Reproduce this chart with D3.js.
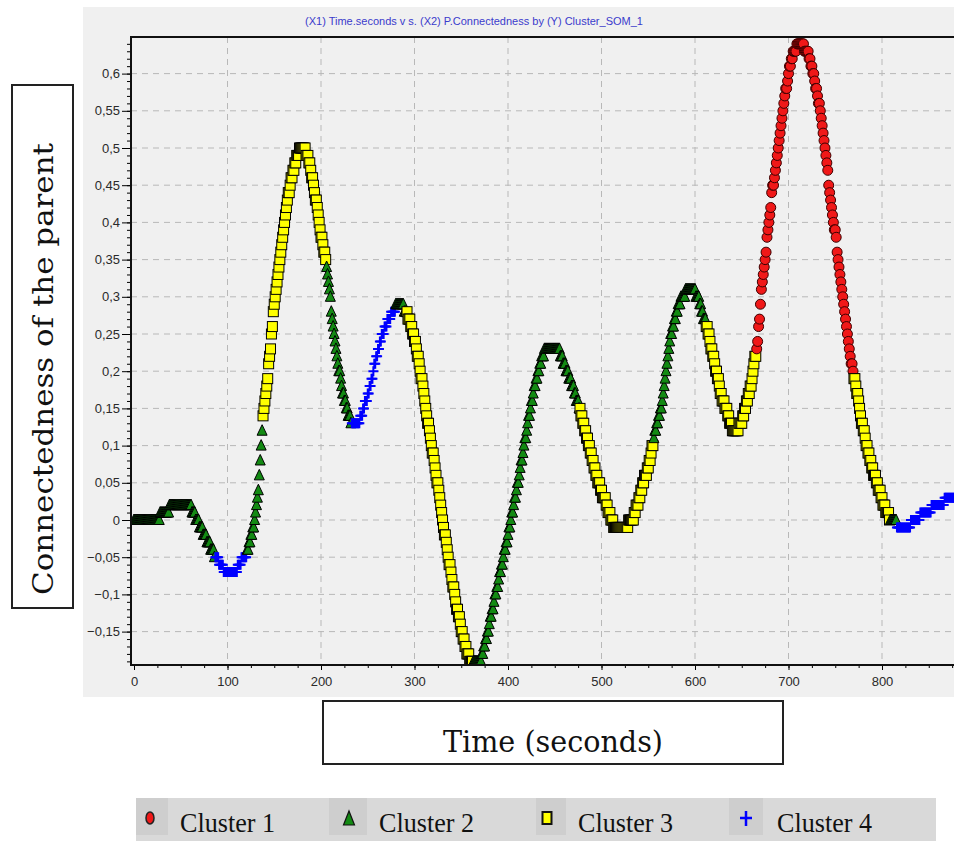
<!DOCTYPE html>
<meta charset="utf-8">
<script src="https://d3js.org/d3.v7.min.js"></script>
<style>
  body { margin: 0; background: #fff; }
  .tick text { font-family: "Liberation Sans", Arial, sans-serif; font-size: 13px; fill: #2a2a2a; }
</style>
<svg id="chart" width="954" height="841"></svg>
<script>

// Connectedness of the parent, in hundredths, one sample per second from t = 0
var connectedness = [
  0,0,0,0,0,0,0,0,0,0,0,0,0,0,0,0,0,0,0,0,
  0,0,0,0,0,0,0,0,1,1,1,1,1,1,1,1,1,1,2,2,
  2,2,2,2,2,2,2,2,2,2,2,2,2,2,2,2,2,2,2,2,
  2,2,1,1,1,1,0,0,0,0,-1,-1,-1,-1,-2,-2,-2,-2,-3,-3,
  -3,-3,-4,-4,-4,-4,-5,-5,-5,-5,-5,-6,-6,-6,-6,-6,-7,-7,-7,-7,
  -7,-7,-7,-7,-7,-7,-7,-7,-7,-7,-7,-6,-6,-6,-6,-5,-5,-5,-5,-5,
  -5,-4,-4,-3,-3,-2,-2,-1,-1,0,1,2,3,4,6,8,10,12,14,15,
  16,17,18,19,21,22,23,25,26,28,29,30,31,32,33,34,35,36,37,38,
  39,40,41,42,43,44,44,45,46,46,47,47,48,48,49,49,49,50,50,50,
  50,50,50,50,49,49,49,48,48,47,46,46,45,44,43,43,42,41,40,39,
  38,38,37,36,36,35,34,33,32,31,30,28,27,26,25,24,23,22,21,20,
  20,19,18,17,17,16,16,15,15,14,14,14,13,13,13,13,13,13,13,13,
  13,13,14,14,14,15,15,16,16,16,17,17,18,18,19,19,20,21,21,22,
  22,23,23,24,24,25,25,25,26,26,26,27,27,27,27,28,28,28,28,28,
  29,29,29,29,29,29,29,29,29,28,28,28,28,27,27,27,26,26,25,25,
  24,24,23,22,22,21,20,19,19,18,17,16,15,14,13,13,12,11,10,9,
  9,8,7,6,5,5,4,3,2,1,0,-1,-2,-2,-3,-4,-5,-6,-6,-7,
  -8,-9,-9,-10,-11,-12,-12,-13,-13,-14,-15,-15,-16,-16,-17,-17,-18,-18,-18,-19,
  -19,-19,-19,-19,-19,-19,-19,-19,-19,-19,-19,-19,-18,-18,-17,-17,-16,-16,-15,-15,
  -14,-13,-13,-12,-12,-11,-10,-10,-9,-9,-8,-7,-7,-6,-6,-5,-4,-4,-3,-3,
  -2,-1,-1,0,1,1,2,3,3,4,5,5,6,7,8,8,9,10,11,11,
  12,13,14,14,15,16,16,17,18,18,19,19,20,20,21,21,22,22,22,23,
  23,23,23,23,23,23,23,23,23,23,23,23,23,23,23,23,22,22,22,21,
  21,21,20,20,20,19,19,19,18,18,18,17,17,16,16,16,15,15,14,14,
  13,13,12,12,11,11,10,10,9,9,8,8,7,7,6,6,5,5,5,4,
  4,3,3,3,3,2,2,1,1,1,0,0,0,-1,-1,-1,-1,-1,-1,-1,
  -1,-1,-1,-1,-1,-1,-1,-1,-1,0,0,0,0,0,0,1,1,2,2,2,
  3,3,4,4,5,5,6,6,6,7,7,8,8,9,10,10,11,12,12,13,
  13,14,14,15,15,16,17,18,19,20,21,22,23,24,25,25,26,26,27,27,
  28,28,29,29,29,30,30,30,30,30,31,31,31,31,31,31,31,31,31,31,
  31,30,30,30,30,29,29,28,28,27,27,27,26,26,25,25,24,23,23,22,
  22,21,20,20,19,19,18,17,17,16,16,16,15,15,15,14,14,13,13,13,
  12,12,12,12,12,12,12,13,13,13,13,14,14,15,15,16,16,17,17,18,
  18,19,20,21,22,22,23,24,26,27,29,31,32,33,34,35,36,38,39,40,
  41,42,44,45,45,46,47,48,49,50,51,52,53,54,55,56,57,58,58,59,
  60,61,61,62,62,63,63,63,63,64,64,64,64,64,64,64,64,63,63,63,
  63,63,62,62,61,61,60,60,59,58,58,57,56,56,55,54,53,52,51,50,
  49,48,47,45,44,43,42,41,40,39,39,38,36,35,34,33,32,31,30,29,
  28,27,26,25,24,23,22,21,21,20,19,19,18,17,17,16,15,14,13,13,
  12,12,11,10,10,9,9,8,8,7,7,6,6,6,5,5,4,4,4,3,
  3,2,2,2,1,1,1,1,0,0,0,0,0,0,0,0,-1,-1,-1,-1,
  -1,-1,-1,-1,-1,-1,-1,-1,-1,-1,-1,0,0,0,0,0,0,0,0,0,
  0,1,1,1,1,1,1,1,1,1,1,1,1,2,2,2,2,2,2,2,
  2,2,2,2,2,2,2,3,3,3,3,3,3,3,3,3,3,3,3,3,
  3
];
var sampleStep = 1; // seconds between samples

// [first second, last second, cluster]
var clusterRuns = [
  [0, 86, 2], [87, 120, 4], [121, 137, 2], [138, 205, 3],
  [206, 232, 2], [233, 279, 4], [280, 291, 2], [292, 362, 3],
  [363, 476, 2], [477, 555, 3], [556, 611, 2], [612, 665, 3],
  [666, 769, 1], [770, 808, 3], [809, 815, 2], [816, 880, 4]
];

var clusterNames = ["Cluster 1", "Cluster 2", "Cluster 3", "Cluster 4"];
var xTicks = [0, 100, 200, 300, 400, 500, 600, 700, 800];
var yTicks = [-0.15, -0.1, -0.05, 0, 0.05, 0.1, 0.15, 0.2, 0.25, 0.3, 0.35, 0.4, 0.45, 0.5, 0.55, 0.6];
var titleText = "(X1) Time.seconds v s. (X2) P.Connectedness by (Y) Cluster_SOM_1";

var svg = d3.select("#chart");

var plotLeft = 131, plotTop = 37, plotBottom = 665, plotRight = 954;

var x = d3.scaleLinear().domain([0, 800]).range([134, 882]);
var y = d3.scaleLinear().domain([0, 0.6]).range([520, 73.6]);

// panel background
svg.append("rect")
  .attr("x", 83).attr("y", 7)
  .attr("width", 954 - 83).attr("height", 697 - 7)
  .attr("fill", "#f0f0f0");

// title
svg.append("text")
  .attr("x", 474).attr("y", 25)
  .attr("text-anchor", "middle")
  .style("font-family", "'Liberation Sans', Arial, sans-serif")
  .style("font-size", "11px")
  .attr("fill", "#3b3bcc")
  .text(titleText);

// grid
var grid = svg.append("g")
  .attr("stroke", "#b8b8b8")
  .attr("stroke-dasharray", "6 5");
grid.selectAll("line.h")
  .data(yTicks)
  .enter().append("line")
    .attr("x1", plotLeft).attr("x2", plotRight)
    .attr("y1", function(d) { return y(d); })
    .attr("y2", function(d) { return y(d); });
grid.selectAll("line.v")
  .data(xTicks.slice(1))
  .enter().append("line")
    .attr("y1", plotTop).attr("y2", plotBottom)
    .attr("x1", function(d) { return x(d); })
    .attr("x2", function(d) { return x(d); });

// minor ticks
var yMinor = d3.range(-19, 65).map(function(k) { return k / 100; });
svg.append("g")
  .attr("transform", "translate(" + plotLeft + ",0)")
  .call(d3.axisLeft(y).tickValues(yMinor).tickSize(4).tickFormat(""))
  .call(function(g) { g.select(".domain").remove(); });

var xMinor = d3.range(0, 900, 25);
svg.append("g")
  .attr("transform", "translate(0," + plotBottom + ")")
  .call(d3.axisBottom(x).tickValues(xMinor).tickSize(3).tickFormat(""))
  .call(function(g) { g.select(".domain").remove(); });

// major axes
svg.append("g")
  .attr("transform", "translate(" + plotLeft + ",0)")
  .call(d3.axisLeft(y).tickValues(yTicks).tickSize(9).tickPadding(2)
    .tickFormat(function(d) { return d3.format("")(+d.toFixed(2)).replace(".", ","); }))
  .call(function(g) { g.select(".domain").remove(); });

svg.append("g")
  .attr("transform", "translate(0," + plotBottom + ")")
  .call(d3.axisBottom(x).tickValues(xTicks).tickSize(5).tickPadding(7))
  .call(function(g) { g.select(".domain").remove(); });

// frame lines
svg.append("path")
  .attr("d", "M" + plotRight + "," + plotTop + "H" + plotLeft + "V" + plotBottom + "H" + plotRight)
  .attr("fill", "none")
  .attr("stroke", "#111")
  .attr("stroke-width", 2);

// markers
svg.append("clipPath").attr("id", "plotClip")
  .append("rect")
    .attr("x", plotLeft + 1).attr("y", plotTop + 1)
    .attr("width", plotRight - plotLeft).attr("height", plotBottom - plotTop - 2);

var points = connectedness.map(function(v, i) {
  var run = clusterRuns.find(function(r) { return i >= r[0] && i <= r[1]; });
  return { t: i * sampleStep, v: v / 100, cluster: run[2] };
});

function drawMarker(g, cluster) {
  if (cluster === 1) {
    g.append("circle").attr("r", 5)
      .attr("fill", "#f01818").attr("stroke", "#3a0000").attr("stroke-width", 1);
  } else if (cluster === 2) {
    g.append("path").attr("d", "M0,-6L5,4.5L-5,4.5Z")
      .attr("fill", "#138a13").attr("stroke", "#000").attr("stroke-width", 1);
  } else if (cluster === 3) {
    g.append("rect").attr("x", -5).attr("y", -5).attr("width", 10).attr("height", 10)
      .attr("fill", "#ffff00").attr("stroke", "#000").attr("stroke-width", 1);
  } else {
    g.append("path").attr("d", "M-5,0H5M0,-5V5")
      .attr("stroke", "#0000ff").attr("stroke-width", 2);
  }
}

svg.append("g")
  .attr("clip-path", "url(#plotClip)")
  .selectAll("g")
  .data(points)
  .enter().append("g")
    .attr("transform", function(d) { return "translate(" + x(d.t) + "," + y(d.v) + ")"; })
    .each(function(d) { drawMarker(d3.select(this), d.cluster); });

// axis title boxes
svg.append("rect")
  .attr("x", 12).attr("y", 85).attr("width", 61).attr("height", 523)
  .attr("fill", "#fff").attr("stroke", "#222").attr("stroke-width", 2);
svg.append("text")
  .attr("transform", "translate(53,369) rotate(-90)")
  .attr("text-anchor", "middle")
  .style("font-family", "'DejaVu Serif', serif")
  .style("font-size", "28px")
  .attr("textLength", 452).attr("lengthAdjust", "spacingAndGlyphs")
  .attr("fill", "#111")
  .text("Connectedness of the parent");

svg.append("rect")
  .attr("x", 323).attr("y", 701).attr("width", 460).attr("height", 63)
  .attr("fill", "#fff").attr("stroke", "#222").attr("stroke-width", 2);
svg.append("text")
  .attr("x", 553).attr("y", 752)
  .attr("text-anchor", "middle")
  .style("font-family", "'DejaVu Serif', serif")
  .style("font-size", "30px")
  .attr("textLength", 220).attr("lengthAdjust", "spacingAndGlyphs")
  .attr("fill", "#111")
  .text("Time (seconds)");

// legend
var legendX = [136, 329, 536, 729];
var legendIconW = [32, 38, 30, 34];
var legendIconDx = [14, 20, 11, 17];
var legendTextX = [180, 379, 578, 777];
var legend = svg.append("g");
legend.append("rect")
  .attr("x", 136).attr("y", 798).attr("width", 800).attr("height", 43)
  .attr("fill", "#d9d9d9");
clusterNames.forEach(function(name, i) {
  legend.append("rect")
    .attr("x", legendX[i]).attr("y", 798).attr("width", legendIconW[i]).attr("height", 37)
    .attr("fill", "#cecece");
  var icon = legend.append("g").attr("transform", "translate(" + (legendX[i] + legendIconDx[i]) + ",818)");
  if (i === 0) {
    icon.append("ellipse").attr("rx", 4).attr("ry", 6)
      .attr("fill", "#f01818").attr("stroke", "#222").attr("stroke-width", 1.5);
  } else if (i === 1) {
    icon.append("path").attr("d", "M0,-7L5.5,7L-5.5,7Z")
      .attr("fill", "#138a13").attr("stroke", "#111").attr("stroke-width", 1.2);
  } else if (i === 2) {
    icon.append("rect").attr("x", -4.5).attr("y", -6).attr("width", 9).attr("height", 12)
      .attr("fill", "#ffff00").attr("stroke", "#111").attr("stroke-width", 2);
  } else {
    icon.append("path").attr("d", "M-6,0H6M0,-7V8")
      .attr("stroke", "#0000ff").attr("stroke-width", 2.5);
  }
  legend.append("text")
    .attr("x", legendTextX[i]).attr("y", 832)
    .style("font-family", "'Liberation Serif', 'Times New Roman', serif")
    .style("font-size", "27px")
    .attr("textLength", 95).attr("lengthAdjust", "spacingAndGlyphs")
    .attr("fill", "#111")
    .text(name);
});

</script>
